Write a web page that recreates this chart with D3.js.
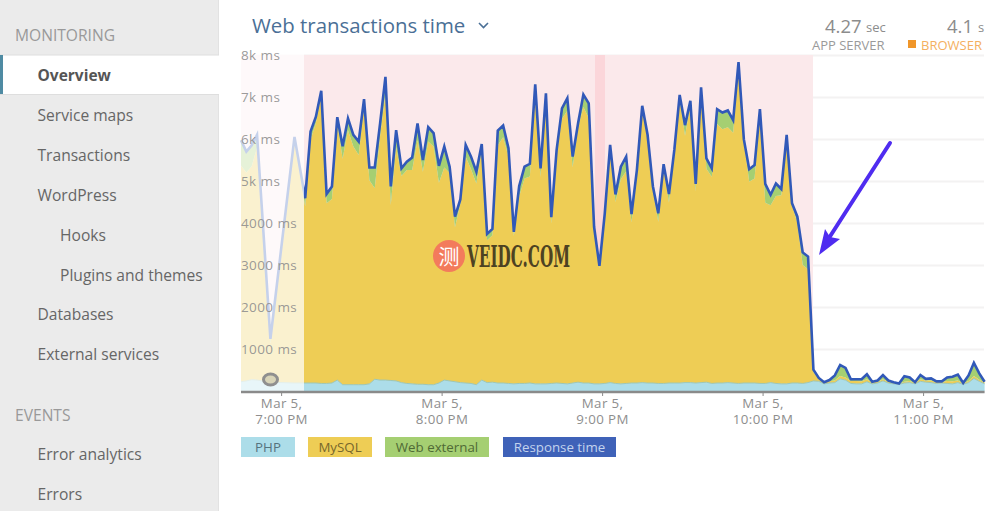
<!DOCTYPE html>
<html><head><meta charset="utf-8">
<script src="https://cdnjs.cloudflare.com/ajax/libs/d3/7.8.5/d3.min.js"></script>
<style>html,body{margin:0;padding:0;background:#fff;overflow:hidden}svg{display:block;font-family:"Open Sans",sans-serif}</style>
</head><body><svg id="c" width="1000" height="511"></svg>
<script>
const navItems=[["MONITORING",15,35,"h"],["Overview",37.5,75,"a"],["Service maps",37.5,115],["Transactions",37.5,155],["WordPress",37.5,195],["Hooks",60,235],["Plugins and themes",60,275],["Databases",37.5,314],["External services",37.5,354],["EVENTS",15,415,"h"],["Error analytics",37.5,454],["Errors",37.5,494]];
const yTickValues=[1000,2000,3000,4000,5000,6000,7000,8000];
const yTickLabels=["1000 ms","2000 ms","3000 ms","4000 ms","5k ms","6k ms","7k ms","8k ms"];
const legendLabels=["PHP","MySQL","Web external","Response time"];
// sample slots (2-minute steps from 18:45); the faded lead-in is sparse
const slots=[0,1,2,3,5.5,10].concat(d3.range(12,140));
const responseTime=[5970,5700,5850,6100,1240,6050,4590,6180,6530,7150,4690,4870,6520,5830,6490,6100,5940,6950,5320,5320,6370,7480,4870,6210,5300,5460,5560,6370,5500,6280,6140,5360,5820,5340,4150,4560,5860,5580,5220,5880,3740,3860,6200,6320,5780,3790,4880,5340,5410,7300,5300,7090,4140,5740,6730,6970,5580,6370,7060,6850,3910,2980,4230,5860,4680,5340,5580,4210,5260,6790,6100,4870,4230,5400,4690,5740,7050,6330,6910,4930,7230,5540,5300,6710,6630,6680,6450,7830,5990,5280,5380,6710,4930,4670,4940,4810,6100,4470,4150,3300,3200,510,310,210,260,370,620,550,280,280,280,400,220,250,380,250,210,180,350,320,210,380,290,300,230,230,320,340,390,190,370,670,420,220];
const webExternal=[600,500,500,300,100,100,200,200,150,100,220,300,150,300,280,280,320,170,300,490,300,400,440,400,180,200,300,400,280,340,320,400,500,150,250,100,280,300,280,100,150,150,350,280,200,100,250,280,300,150,200,100,150,100,250,300,250,100,300,350,50,50,50,50,180,300,350,200,100,100,100,100,200,80,200,50,100,250,100,180,100,250,200,350,400,400,300,200,50,300,320,100,450,250,300,150,80,50,150,300,300,60,30,10,30,120,260,230,40,40,50,120,20,30,100,30,20,10,130,80,20,100,40,50,20,10,80,110,140,10,130,310,150,20];
const php=[220,240,270,260,210,190,190,190,190,180,180,190,260,150,150,150,150,150,170,280,260,260,250,240,200,180,170,160,160,150,150,190,260,240,220,200,190,180,150,260,200,210,190,190,180,170,180,180,190,170,170,170,180,190,180,170,190,210,190,190,170,170,180,200,180,170,180,190,190,200,190,190,180,180,190,190,190,200,200,190,200,210,180,190,190,200,190,180,190,190,190,180,180,200,180,170,170,190,190,180,200,240,230,170,190,200,290,260,180,170,170,220,170,190,240,190,170,160,190,200,170,230,210,200,180,190,180,170,200,160,200,300,230,170];
const mysql=[5150,4960,5080,5540,930,5760,4200,5790,6190,6870,4290,4380,6110,5380,6060,5670,5470,6630,4850,4550,5810,6820,4180,5570,4920,5080,5090,5810,5060,5790,5670,4770,5060,4950,3680,4260,5390,5100,4790,5520,3390,3500,5660,5850,5400,3520,4450,4880,4920,6980,4930,6820,3810,5450,6300,6500,5140,6060,6570,6310,3690,2760,4000,5610,4320,4870,5050,3820,4970,6490,5810,4580,3850,5140,4300,5500,6760,5880,6610,4560,6930,5080,4920,6170,6040,6080,5960,7450,5750,4790,4870,6430,4300,4220,4460,4490,5850,4230,3810,2820,2700,210,50,30,40,50,70,60,60,70,60,60,30,30,40,30,20,10,30,40,20,50,40,50,30,30,60,60,50,20,40,60,40,30];

const svg=d3.select("#c");
// sidebar
svg.append("rect").attr("width",218).attr("height",511).attr("fill","#ebebeb");
svg.append("line").attr("x1",218.5).attr("x2",218.5).attr("y2",511).attr("stroke","#e2e2e2");
svg.append("rect").attr("y",55).attr("width",219).attr("height",39).attr("fill","#fff");
svg.append("line").attr("x1",0).attr("x2",219).attr("y1",55).attr("y2",55).attr("stroke","#dedede");
svg.append("line").attr("x1",0).attr("x2",219).attr("y1",94.5).attr("y2",94.5).attr("stroke","#dedede");
svg.append("rect").attr("y",55).attr("width",3).attr("height",39).attr("fill","#4f8ba3");
svg.selectAll("text.nav").data(navItems).join("text").attr("class","nav")
 .attr("x",d=>d[1]).attr("y",d=>d[2]).attr("dy",".36em")
 .attr("font-size",d=>d[3]==="h"?15.6:d[3]==="a"?15.5:15.6)
 .attr("font-weight",d=>d[3]==="a"?700:400)
 .attr("fill",d=>d[3]==="h"?"#999":d[3]==="a"?"#555":"#666").text(d=>d[0]);
// header
svg.append("text").attr("x",252).attr("y",26).attr("dy",".36em").attr("font-size",20.4).attr("fill","#4a6f96").text("Web transactions time");
svg.append("path").attr("d","M479 23l4.5 4.5 4.5-4.5").attr("fill","none").attr("stroke","#4a6f96").attr("stroke-width",1.6);
const hdr=svg.append("g").attr("fill","#8c8c8c");
hdr.append("text").attr("x",825).attr("y",26).attr("dy",".36em").attr("font-size",18.5).text("4.27");
hdr.append("text").attr("x",866).attr("y",27).attr("dy",".36em").attr("font-size",13).text("sec");
hdr.append("text").attr("x",812).attr("y",45).attr("dy",".36em").attr("font-size",13).attr("fill","#9a9a9a").text("APP SERVER");
hdr.append("text").attr("x",947).attr("y",26).attr("dy",".36em").attr("font-size",18.5).text("4.1");
hdr.append("text").attr("x",978).attr("y",27).attr("dy",".36em").attr("font-size",13).text("s");
svg.append("rect").attr("x",908).attr("y",40).attr("width",8).attr("height",8).attr("fill","#f0962a");
svg.append("text").attr("x",921).attr("y",45).attr("dy",".36em").attr("font-size",13).attr("fill","#f4b060").text("BROWSER");

// scales
const t0=new Date(2024,2,5,18,45);
const timeOf=s=>new Date(+t0+s*120000);
const x=d3.scaleTime().domain([timeOf(0),timeOf(139)]).range([241,984.6]);
const y=d3.scaleLinear().domain([0,8000]).range([391,55]);
const rows=slots.map((s,i)=>({t:timeOf(s),php:php[i],mysql:mysql[i],web:webExternal[i],resp:responseTime[i]}));

// grid
svg.append("g").attr("transform","translate(241,0)").call(d3.axisRight(y).tickValues(yTickValues).tickSize(743).tickFormat(""))
 .call(g=>g.select(".domain").remove())
 .call(g=>g.selectAll("line").attr("stroke","#f3f2f2").attr("stroke-width",2));
// alert background
svg.append("rect").attr("x",241).attr("y",55).attr("width",813-241).attr("height",336).attr("fill","#fbe9eb");
svg.append("rect").attr("x",595).attr("y",55).attr("width",10).attr("height",336).attr("fill","#fbd6da");
// areas
const keys=["php","mysql","web"],colors={php:"#acdde9",mysql:"#eecd55",web:"#a5cf72"};
const stack=d3.stack().keys(keys)(rows);
const area=d3.area().x(d=>x(d.data.t)).y0(d=>y(d[0])).y1(d=>y(d[1]));
svg.append("g").selectAll("path").data(stack).join("path").attr("d",area).attr("fill",d=>colors[d.key]);
svg.append("path").datum(rows.map(d=>d)).attr("d",d3.line().x(d=>x(d.t)).y(d=>y(d.php)))
 .attr("fill","none").attr("stroke","#9cc7b8").attr("stroke-width",1);
svg.append("path").datum(rows).attr("d",d3.line().x(d=>x(d.t)).y(d=>y(d.resp)))
 .attr("fill","none").attr("stroke","#3159b8").attr("stroke-width",2.6).attr("stroke-linejoin","miter");
// faded lead-in
svg.append("rect").attr("x",239).attr("y",54).attr("width",65).attr("height",337.5).attr("fill","#fff").attr("opacity",.72);
// marker
svg.append("ellipse").attr("cx",270.5).attr("cy",379.5).attr("rx",7).attr("ry",5.5).attr("fill","#d8d4b8").attr("stroke","#8f8f8f").attr("stroke-width",3);
// y labels
svg.append("g").attr("transform","translate(241,0)").call(d3.axisRight(y).tickValues(yTickValues).tickSize(0).tickPadding(0).tickFormat((d,i)=>yTickLabels[i]))
 .call(g=>g.select(".domain").remove())
 .call(g=>g.selectAll("text").attr("font-family","'Open Sans',sans-serif").attr("font-size",13.5).attr("letter-spacing",.4).attr("fill","#8e8e8e").attr("fill-opacity",.9));
// x axis
const xAxis=svg.append("g").attr("transform","translate(0,392)").call(d3.axisBottom(x).ticks(d3.timeHour.every(1)).tickSize(4).tickPadding(4).tickFormat(d3.timeFormat("%-I:00 %p")));
xAxis.select(".domain").attr("stroke","#8a8a8a").attr("stroke-width",2.5).attr("d","M241 0H984.6");
xAxis.selectAll("line").attr("stroke","#8a8a8a");
xAxis.selectAll("text").each(function(){
  const s=d3.select(this),lab=s.text();s.text(null);
  s.attr("dy",null).attr("y",null).attr("font-family","'Open Sans',sans-serif").attr("font-size",13.3).attr("letter-spacing",.4).attr("fill","#8e8e8e");
  s.append("tspan").attr("x",0).attr("y",16).text("Mar 5,");
  s.append("tspan").attr("x",0).attr("y",32).text(lab);
});
// legend
const lg=[[241,54,"#acdde9","#55737d"],[308,64,"#eecd55","#77672c"],[385,104,"#a5cf72","#4f6a35"],[503,113,"#3f62b8","#c3d3ee"]];
const lgG=svg.append("g").selectAll("g").data(legendLabels).join("g");
lgG.append("rect").attr("x",(d,i)=>lg[i][0]).attr("y",437).attr("width",(d,i)=>lg[i][1]).attr("height",20).attr("fill",(d,i)=>lg[i][2]);
lgG.append("text").attr("x",(d,i)=>lg[i][0]+lg[i][1]/2).attr("y",447).attr("dy",".36em").attr("text-anchor","middle").attr("font-size",13.3).attr("fill",(d,i)=>lg[i][3]).text(d=>d);
// watermark
svg.append("circle").attr("cx",449).attr("cy",256).attr("r",16).attr("fill","#f37b5c");
svg.append("text").attr("x",449).attr("y",256).attr("dy",".36em").attr("text-anchor","middle").attr("font-size",21).attr("font-family","'Noto Sans CJK SC'").attr("fill","#fff").text("测");
svg.append("text").attr("x",467).attr("y",267).attr("font-family","'DejaVu Serif Condensed','DejaVu Serif',serif").attr("font-weight",700).attr("font-size",30).attr("textLength",103).attr("lengthAdjust","spacingAndGlyphs").attr("fill","#4d4222").text("VEIDC.COM");
// arrow
svg.append("line").attr("x1",890).attr("y1",143).attr("x2",829).attr("y2",238).attr("stroke","#4f2cf0").attr("stroke-width",4).attr("stroke-linecap","round");
svg.append("path").attr("d","M819 255L825 229L830 237L840 239Z").attr("fill","#4f2cf0");
</script></body></html>
